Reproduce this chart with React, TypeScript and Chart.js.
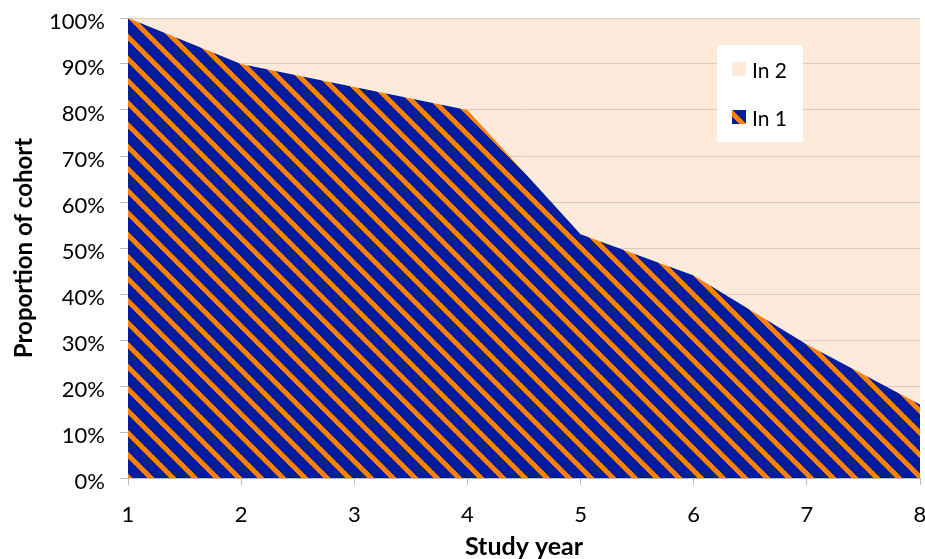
import { useEffect, useRef } from "react";
import { Chart, registerables } from "chart.js";

Chart.register(...registerables);

// Study years on the x axis
const studyYears = [1, 2, 3, 4, 5, 6, 7, 8];
// Share of the cohort in each state (percent), stacked to 100
const in1Share = [100, 90, 85, 80, 53, 44, 29, 16];
const in2Share = [0, 10, 15, 20, 47, 56, 71, 84];
const seriesNames = ["In 1", "In 2"];
const xTitle = "Study year";
const yTitle = "Proportion of cohort";
const yTickValues = [0, 10, 20, 30, 40, 50, 60, 70, 80, 90, 100];

const NAVY: [number, number, number] = [1, 28, 156];
const ORANGE: [number, number, number] = [255, 128, 0];
const PEACH = "#fdeada";
const FONT = "Lato, 'Open Sans', sans-serif";

// Crisp diagonal stripe tile: orange band every 22px along "\" diagonals
function makeStripePattern(ctx: CanvasRenderingContext2D): CanvasPattern | string {
  const size = 22;
  const band = 7;
  const tile = document.createElement("canvas");
  tile.width = size;
  tile.height = size;
  const t = tile.getContext("2d");
  if (!t) return "rgb(1,28,156)";
  const img = t.createImageData(size, size);
  for (let y = 0; y < size; y++) {
    for (let x = 0; x < size; x++) {
      const d = (((x - y) % size) + size) % size;
      const col = d < band ? ORANGE : NAVY;
      const k = (y * size + x) * 4;
      img.data[k] = col[0];
      img.data[k + 1] = col[1];
      img.data[k + 2] = col[2];
      img.data[k + 3] = 255;
    }
  }
  t.putImageData(img, 0, 0);
  return ctx.createPattern(tile, "repeat") || "rgb(1,28,156)";
}

export default function App() {
  const canvasRef = useRef<HTMLCanvasElement | null>(null);

  useEffect(() => {
    document.body.style.margin = "0";
    const canvas = canvasRef.current;
    if (!canvas) return;
    const ctx = canvas.getContext("2d");
    if (!ctx) return;
    const stripes = makeStripePattern(ctx);

    // Legend box drawn inside the plot area
    const insideLegend = {
      id: "insideLegend",
      afterDraw(chart: any) {
        const c = chart.ctx as CanvasRenderingContext2D;
        const area = chart.chartArea;
        const boxW = 86;
        const boxH = 97;
        const bx = area.right - 203;
        const by = area.top + 27;
        c.save();
        c.fillStyle = "#ffffff";
        c.fillRect(bx, by, boxW, boxH);
        const entries = [
          { name: seriesNames[1], fill: PEACH as any, cy: by + 24 },
          { name: seriesNames[0], fill: stripes as any, cy: by + 72 },
        ];
        c.font = `21px ${FONT}`;
        c.textBaseline = "middle";
        c.textAlign = "left";
        for (const e of entries) {
          c.fillStyle = e.fill;
          c.fillRect(bx + 15, e.cy - 7, 14, 14);
          c.fillStyle = "#000000";
          c.fillText(e.name, bx + 35, e.cy + 2);
        }
        c.restore();
      },
    };

    const chart = new Chart(ctx, {
      type: "line",
      data: {
        datasets: [
          {
            label: seriesNames[0],
            data: studyYears.map((x, i) => ({ x, y: in1Share[i] })),
            backgroundColor: stripes as any,
            borderWidth: 0,
            pointRadius: 0,
            fill: "origin",
            tension: 0,
          },
          {
            label: seriesNames[1],
            data: studyYears.map((x, i) => ({ x, y: in2Share[i] })),
            backgroundColor: "rgba(251, 213, 181, 0.5)",
            borderWidth: 0,
            pointRadius: 0,
            fill: "-1",
            tension: 0,
          },
        ],
      },
      options: {
        responsive: false,
        animation: false,
        layout: { padding: { top: 18, right: 5, left: 0, bottom: 0 } },
        plugins: {
          legend: { display: false },
          tooltip: { enabled: false },
        },
        scales: {
          x: {
            type: "linear",
            min: studyYears[0],
            max: studyYears[studyYears.length - 1],
            z: 1,
            ticks: {
              stepSize: 1,
              color: "#000000",
              font: { family: FONT, size: 22 },
              padding: 17,
            },
            grid: {
              drawOnChartArea: false,
              drawTicks: true,
              tickLength: 7,
              color: "#bcbcbc",
            },
            border: { color: "#bcbcbc" },
            title: {
              display: true,
              text: xTitle,
              color: "#000000",
              font: { family: FONT, size: 25, weight: "bold", lineHeight: 0.95 },
              padding: { top: 0, bottom: 0 },
            },
            afterFit(scale: any) {
              scale.height = 81;
              scale.paddingLeft = 0;
              scale.paddingRight = 0;
            },
          },
          y: {
            stacked: true,
            min: 0,
            max: 100,
            afterBuildTicks(scale: any) {
              scale.ticks = yTickValues.map((v) => ({ value: v }));
            },
            ticks: {
              color: "#000000",
              font: { family: FONT, size: 22 },
              padding: 15,
              labelOffset: 4,
              callback: (v: any) => `${v}%`,
            },
            grid: {
              color: "#bcbcbc",
              tickLength: 8,
            },
            border: { color: "#bcbcbc" },
            title: {
              display: true,
              text: yTitle,
              color: "#000000",
              font: { family: FONT, size: 24, weight: "bold" },
              padding: { top: 10, bottom: 0 },
            },
            afterFit(scale: any) {
              scale.width = 128;
              scale.paddingTop = 0;
              scale.paddingBottom = 0;
            },
          },
        },
      },
      plugins: [insideLegend],
    });

    return () => chart.destroy();
  }, []);

  return (
    <div style={{ position: "absolute", left: 0, top: 0, width: 925, height: 559 }}>
      <canvas ref={canvasRef} width={925} height={559} style={{ display: "block" }} />
    </div>
  );
}
